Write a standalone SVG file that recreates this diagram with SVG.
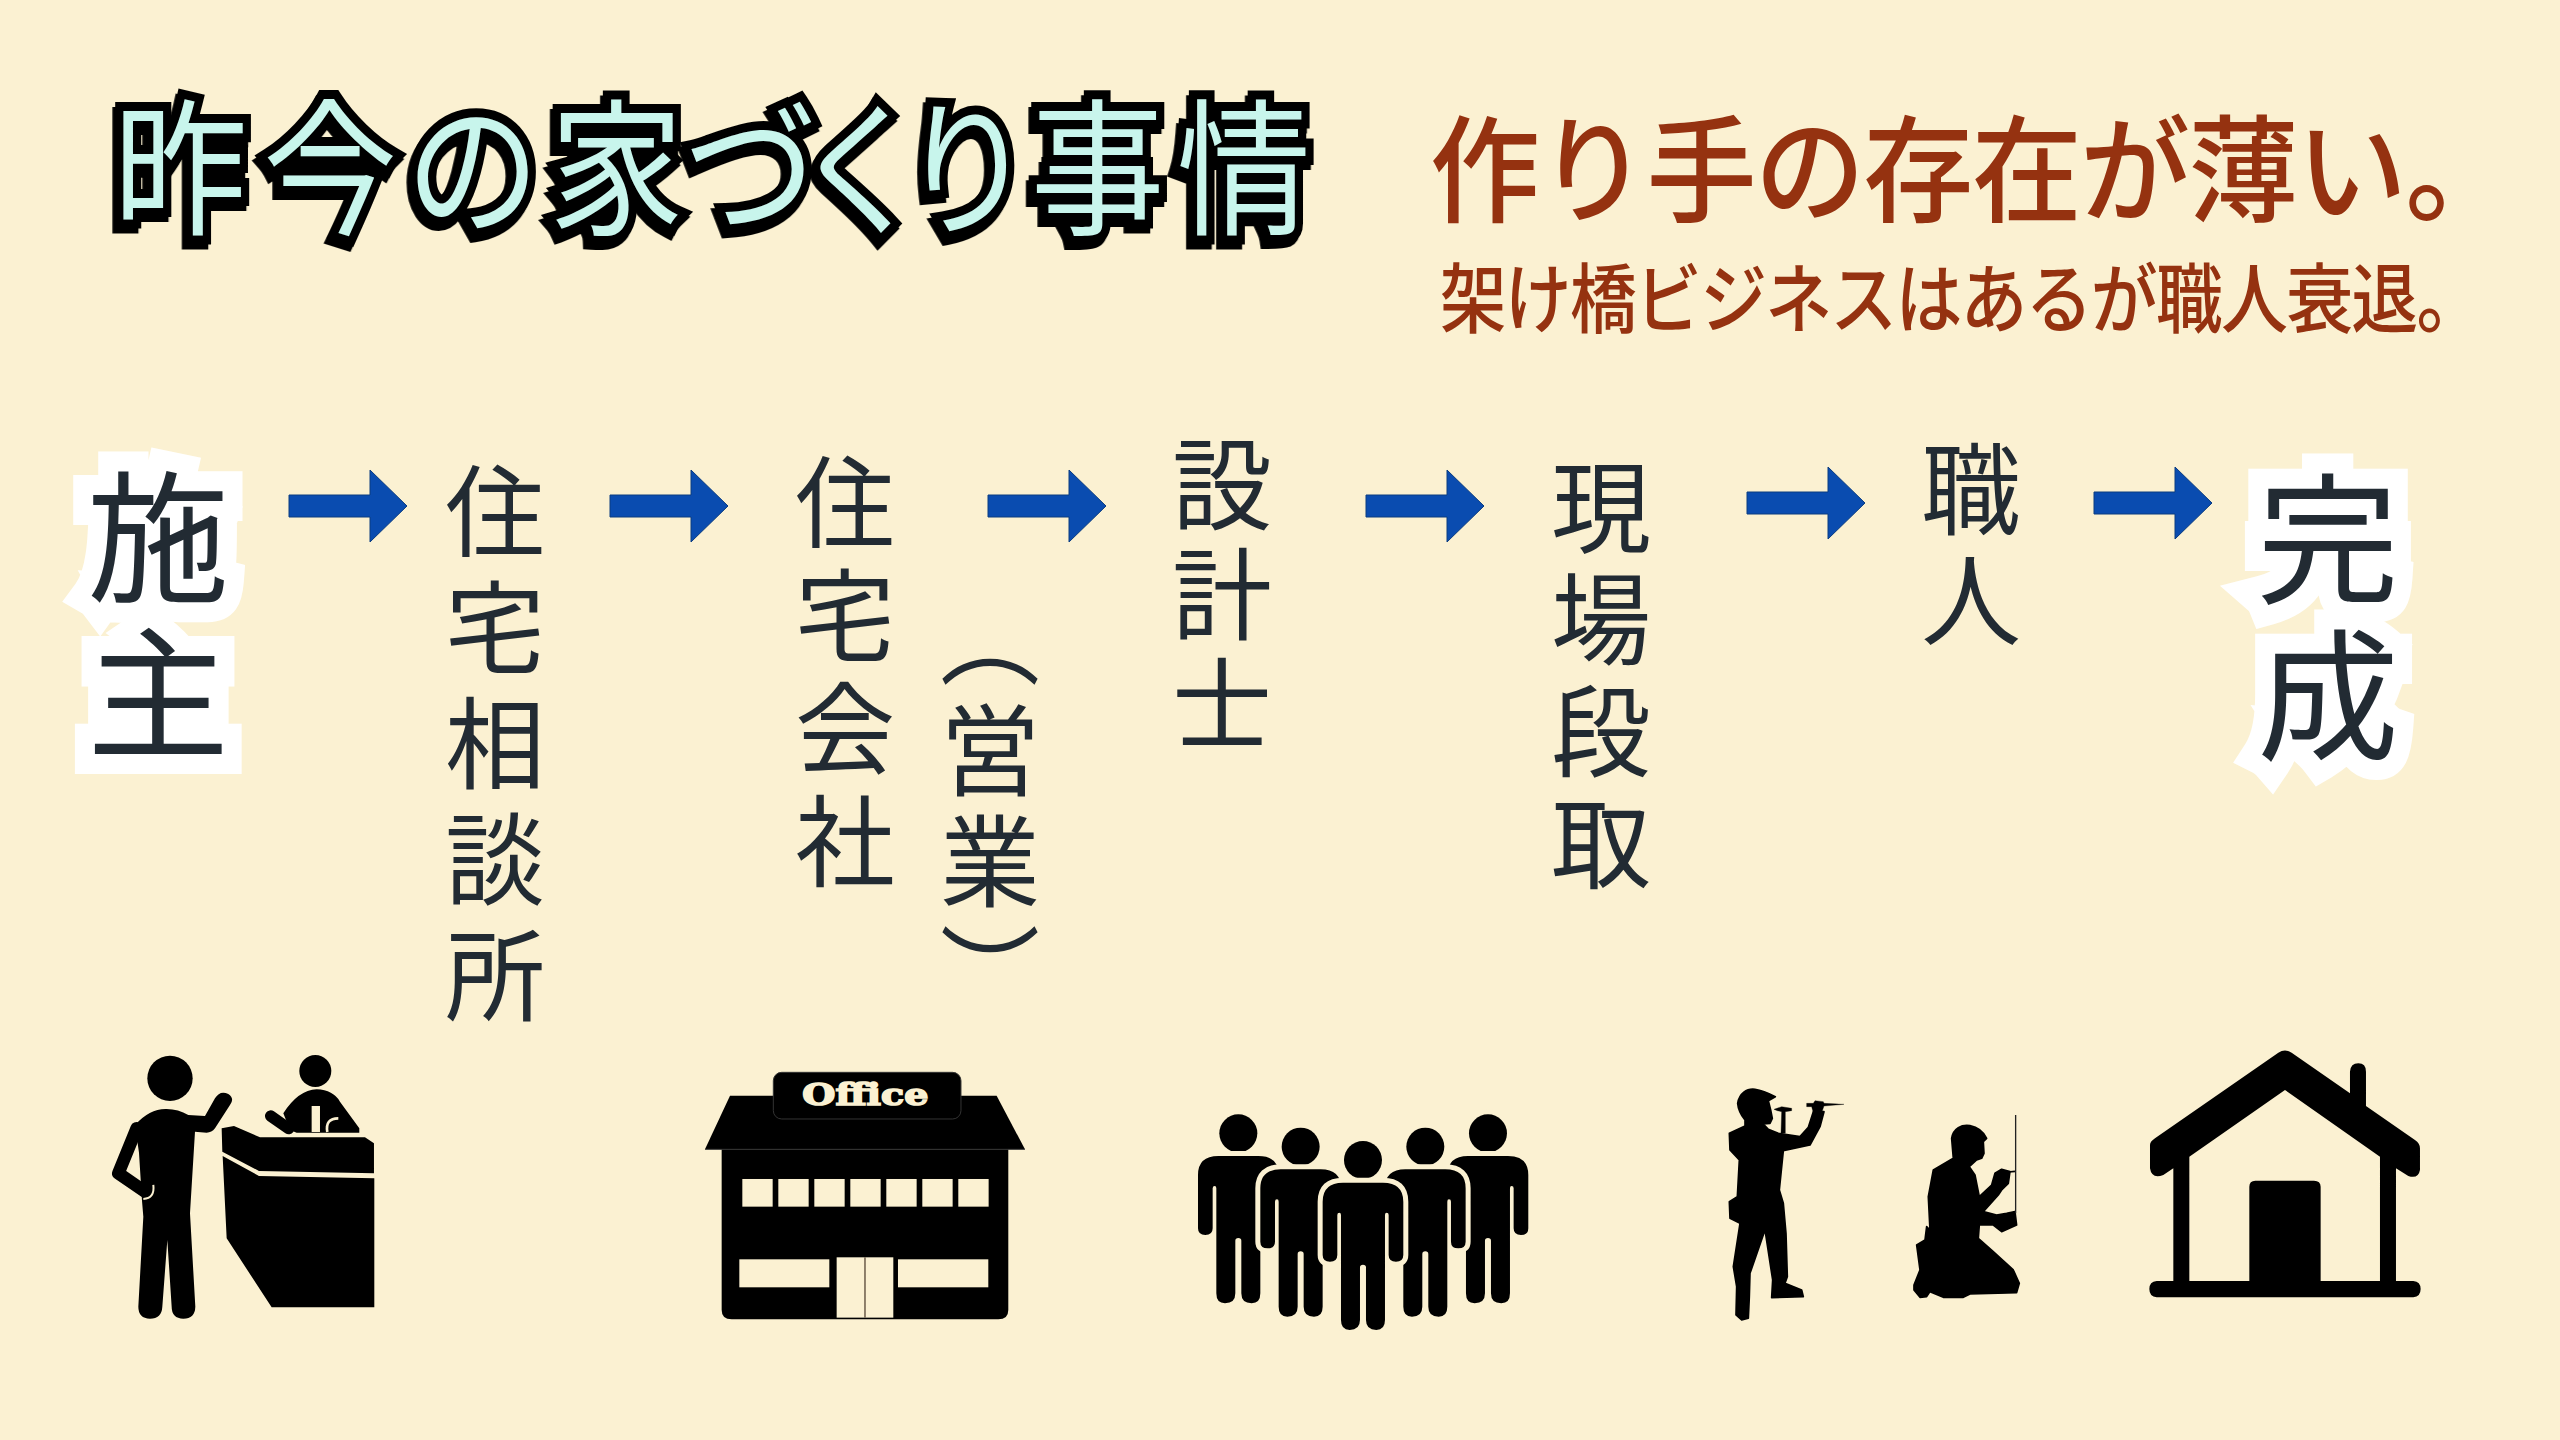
<svg xmlns="http://www.w3.org/2000/svg" width="2560" height="1440" viewBox="0 0 2560 1440">
<style>
text{font-family:"Noto Sans CJK JP","Noto Sans CJK SC",sans-serif}
.title{font-size:146px;font-weight:400;fill:#c8f5ec;stroke:#000;stroke-width:18px;paint-order:stroke;stroke-linejoin:miter;filter:drop-shadow(-3px 5px 0 #000)}
.sub{fill:#953210;font-weight:500}
.v{writing-mode:vertical-rl;fill:#222b33;font-size:100px;letter-spacing:13px}
.big{writing-mode:vertical-rl;fill:#222b33;font-size:142px;letter-spacing:14px;stroke:#fff;stroke-width:40px;paint-order:stroke;stroke-linejoin:miter}
.arrow{fill:#0a4cb0;stroke:#0a3c80;stroke-width:1}
.k{fill:#000}
.c{fill:#fbf1d2}
.person{fill:#000;stroke:#fbf1d2;stroke-width:30px;paint-order:stroke}
</style>
<defs>
<polygon id="arr" points="0,-11 81,-11 81,-36 118,0 81,36 81,11 0,11"/>
<g id="fig">
<circle cx="0" cy="0" r="57"/>
<path d="M-121,125Q-121,68-60,68L60,68Q121,68 121,125L121,285Q121,305 99,305Q77,305 77,285L77,165Q77,158 71,158Q66,158 66,165L66,480Q66,510 40,510Q9,510 9,480L9,322Q9,314 0,314Q-9,314-9,322L-9,480Q-9,510-40,510Q-66,510-66,480L-66,165Q-66,158-71,158Q-77,158-77,165L-77,285Q-77,305-99,305Q-121,305-121,285Z"/>
</g>
</defs>
<rect width="2560" height="1440" fill="#fbf1d2"/>
<g id="title"><text class="title" transform="scale(.92,1)" x="123 286 441 597 743 862 978 1120 1279" y="223">昨今の家づくり事情</text></g>
<g id="subtitle">
<text class="sub" transform="scale(.95,1)" x="1505" y="213" font-size="116" letter-spacing="-1.9">作り手の存在が薄い。</text>
<text class="sub" transform="scale(.88,1)" x="1636" y="327" font-size="76" letter-spacing="-2">架け橋ビジネスはあるが職人衰退。</text>
</g>
<g id="node-sesyu"><text class="big" x="158" y="466">施主</text></g>
<g id="node-soudan"><text class="v" x="495" y="461" style="letter-spacing:16px">住宅相談所</text></g>
<g id="node-kaisya"><text class="v" x="845" y="452">住宅会社</text></g>
<g id="node-eigyou"><text class="v" x="990" y="589" style="letter-spacing:11px">（営業）</text></g>
<g id="node-sekkei"><text class="v" x="1222" y="434" style="letter-spacing:10px">設計士</text></g>
<g id="node-genba"><text class="v" x="1601" y="457" style="letter-spacing:12px">現場段取</text></g>
<g id="node-syokunin"><text class="v" x="1971" y="439" style="letter-spacing:11px">職人</text></g>
<g id="node-kansei"><text class="big" x="2328" y="468">完成</text></g>
<g id="connectors" class="arrow">
<use href="#arr" x="289" y="506"/>
<use href="#arr" x="610" y="506"/>
<use href="#arr" x="988" y="506"/>
<use href="#arr" x="1366" y="506"/>
<use href="#arr" x="1747" y="503"/>
<use href="#arr" x="2094" y="503"/>
</g>
<g id="icon-reception" transform="translate(90,1030) scale(.3333)" class="k">
<circle cx="240" cy="145" r="68"/>
<path d="M135,285Q180,235 230,237Q265,237 295,255L345,258L375,205Q390,180 415,192Q435,205 420,225L375,295Q365,308 350,308L315,305L300,550L316,830Q315,866 280,866Q245,865 245,830L232,630L217,830Q215,866 180,866Q145,865 145,830L160,560L156,512L147,368Z"/>
<path d="M140,295L85,430L165,485" fill="none" stroke="#000" stroke-width="38" stroke-linecap="round" stroke-linejoin="round"/>
<path d="M160,507Q195,505 190,465" fill="none" stroke="#fbf1d2" stroke-width="6"/>
<path d="M395,295L432,288L510,322L825,322L852,340L852,430L507,423L397,365Z"/>
<path d="M398,378L507,438L853,445L853,832L545,832L410,625Z"/>
<circle cx="676" cy="123" r="48"/>
<path d="M580,250Q625,180 680,178Q730,180 750,215L808,295L808,308L620,308L600,300Z"/>
<path d="M542,258L596,296" fill="none" stroke="#000" stroke-width="34" stroke-linecap="round"/>
<rect class="c" x="665" y="228" width="25" height="78"/>
<path d="M745,265Q705,265 712,306" fill="none" stroke="#fbf1d2" stroke-width="8"/>
</g>
<g id="icon-office" transform="translate(690,1050) scale(.3333)">
<path class="k" d="M120,137L920,137L1005,298L45,298Z"/>
<rect x="250" y="67" width="563" height="140" rx="25" fill="#000" stroke="#333" stroke-width="3"/>
<text x="337" y="166" font-size="92" font-weight="bold" textLength="378" lengthAdjust="spacingAndGlyphs" fill="#fbf1d2" stroke="#fbf1d2" stroke-width="5" style="font-family:'DejaVu Serif','Liberation Serif',serif">Office</text>
<path class="k" d="M95,298L955,298L955,780Q955,808 925,808L125,808Q95,808 95,780Z"/>
<path d="M45,298L1005,298" stroke="#333" stroke-width="3"/>
<g class="c">
<rect x="157" y="387" width="91" height="83"/><rect x="265" y="387" width="91" height="83"/><rect x="373" y="387" width="91" height="83"/><rect x="481" y="387" width="91" height="83"/><rect x="589" y="387" width="91" height="83"/><rect x="697" y="387" width="91" height="83"/><rect x="805" y="387" width="91" height="83"/>
<rect x="148" y="628" width="270" height="84"/><rect x="624" y="628" width="271" height="84"/><rect x="440" y="622" width="170" height="181"/>
</g>
<rect x="523" y="622" width="4" height="181" fill="#5a4a3a"/>
</g>
<g id="icon-team" transform="translate(1180,1090) scale(.3333)" class="person">
<use href="#fig" x="175" y="130"/><use href="#fig" x="924" y="130"/>
<use href="#fig" x="362" y="170"/><use href="#fig" x="736" y="170"/>
<use href="#fig" x="549" y="210"/>
</g>
<g id="icon-workers" transform="translate(1700,1070) scale(.3333)" class="k" stroke="#000" stroke-width="5" stroke-linejoin="round">
<path d="M113,100C118,70 140,55 165,58C190,62 210,72 226,80L205,92L212,120L217,145L210,160L190,162L205,178L235,190L300,200L325,172L340,125L372,125L360,170L330,225L250,242L238,360L250,400L258,490L262,620L255,640L305,660L310,680L215,683L218,630L195,480L150,610L148,680L145,745L125,750L108,735L110,650L100,590L120,460L90,445L88,395L112,380L118,270L90,240L88,190L135,168L135,150Q115,125 113,100Z"/>
<path d="M222,118L245,110L275,115L275,122L256,125L256,190L243,190L245,125L232,122Z" stroke-width="1"/>
<path d="M320,100L340,100L345,92L370,95L372,100L432,103L372,108L365,128L340,128L335,110L320,110Z" stroke-width="1"/>
<path d="M755,205C760,175 785,163 810,167C835,172 850,185 860,205L850,215L852,250L845,265L830,270L808,290L825,315L838,380L875,345L885,310L905,298L930,305L925,340L905,360L895,375L850,425L890,435L920,430L945,425L950,465L905,485L880,465L838,465L835,505L880,545L940,600L958,640L950,668L810,672L790,682L730,682L690,665L680,680L660,682L642,660L642,645L660,600L650,525L675,510L680,470L690,480L685,380L700,300L760,265Z"/>
<path d="M947,135L947,430" stroke="#222" stroke-width="4" fill="none"/>
<path d="M925,306L945,304" stroke="#000" stroke-width="5" fill="none"/>
</g>
<g id="icon-house" transform="translate(2130,1030) scale(.3333)" class="k">
<path fill-rule="evenodd" d="M60,345Q60,335 75,325L445,68Q465,55 485,68L660,190L660,125Q662,100 685,100Q708,100 708,125L708,228L855,330Q870,340 870,355L870,420Q865,448 835,438L798,415L798,753L850,753Q872,755 872,777Q872,800 850,802L80,802Q58,800 58,777Q58,755 80,753L130,753L130,415L100,435Q65,448 60,415ZM178,380L178,753L358,753L358,470Q358,452 376,452L552,452Q572,452 572,470L572,753L750,753L750,380L465,180Z"/>
</g>
</svg>
